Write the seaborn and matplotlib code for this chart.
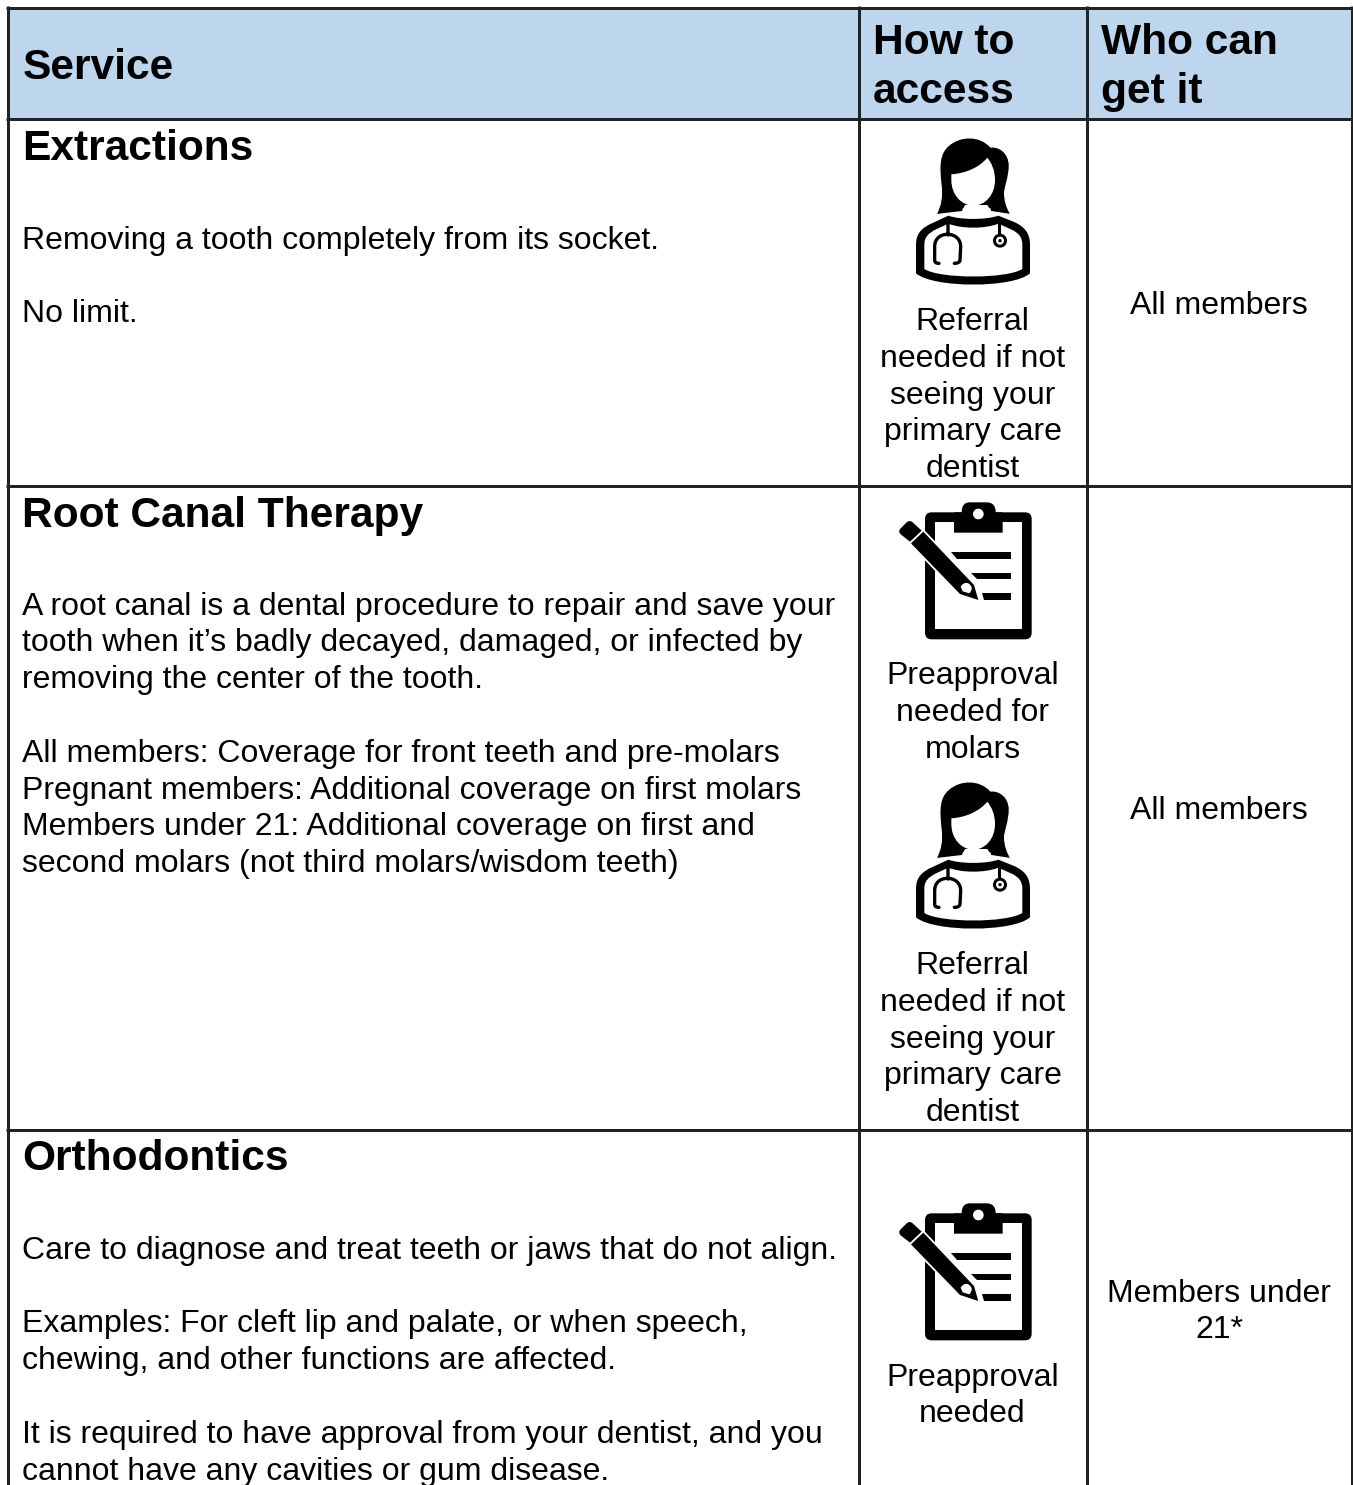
import re

import matplotlib.pyplot as plt
import seaborn as sns
from matplotlib.patches import Circle, PathPatch, Rectangle
from matplotlib.path import Path

# table text
header_service = "Service"
header_access = ["How to", "access"]
header_who = ["Who can", "get it"]

service_titles = ["Extractions", "Root Canal Therapy", "Orthodontics"]
service_lines = [
    "Removing a tooth completely from its socket.",
    "No limit.",
    "A root canal is a dental procedure to repair and save your",
    "tooth when it’s badly decayed, damaged, or infected by",
    "removing the center of the tooth.",
    "All members: Coverage for front teeth and pre-molars",
    "Pregnant members: Additional coverage on first molars",
    "Members under 21: Additional coverage on first and",
    "second molars (not third molars/wisdom teeth)",
    "Care to diagnose and treat teeth or jaws that do not align.",
    "Examples: For cleft lip and palate, or when speech,",
    "chewing, and other functions are affected.",
    "It is required to have approval from your dentist, and you",
    "cannot have any cavities or gum disease.",
]
referral_text = ["Referral", "needed if not", "seeing your", "primary care", "dentist"]
preapproval_molars = ["Preapproval", "needed for", "molars"]
preapproval_text = ["Preapproval", "needed"]
who_text = ["All members", "All members", "Members under", "21*"]

# layout in image pixels
col_edges = [7.5, 858.5, 1086.5, 1351.5]
row_edges = [7.5, 118.5, 485.5, 1129.5]
title_y = [160, 527, 1170]
service_y = [249, 322, 615, 651, 688, 762, 799, 835, 872, 1259, 1332, 1369, 1443, 1480]
who_y = [314, 819, 1302, 1338]

sns.set_theme(style="white")
plt.rcParams["font.family"] = ["Liberation Sans", "DejaVu Sans"]

fig = plt.figure(figsize=(13.53, 14.85), dpi=100)
ax = fig.add_axes([0, 0, 1, 1])
ax.set_xlim(0, 1353)
ax.set_ylim(1485, 0)
ax.axis("off")

BODY = 23.0
BOLD = 30.65
INK = "#222222"
access_x = (col_edges[1] + col_edges[2]) / 2
who_x = (col_edges[2] + col_edges[3]) / 2
text_x = 22.5


def svg(d):
    # tiny M/L/C/Q/Z path reader, easier than typing the codes out
    verts, codes = [], []
    kinds = {"M": (Path.MOVETO, 1), "L": (Path.LINETO, 1), "C": (Path.CURVE4, 3), "Q": (Path.CURVE3, 2)}
    for cmd, args in re.findall(r"([MLCQZ])([^MLCQZ]*)", d):
        nums = [float(n) for n in args.split()]
        if cmd == "Z":
            verts.append((0, 0))
            codes.append(Path.CLOSEPOLY)
            continue
        code, n = kinds[cmd]
        pts = list(zip(nums[::2], nums[1::2]))
        for i, p in enumerate(pts):
            verts.append(p)
            codes.append(code if (cmd not in "ML" or i == 0) else Path.LINETO)
    return Path(verts, codes)


def shape(d, ox, oy, fc="black", ec="none", lw=0.0, zorder=3):
    # icon drawings were traced at 3x, hence the scale
    path = svg(d)
    verts = path.vertices / 3 + [ox, oy]
    path = Path(verts, path.codes)
    ax.add_patch(PathPatch(path, facecolor=fc, edgecolor=ec, lw=lw, zorder=zorder, capstyle="round"))


def dot(x, y, r, ox, oy, fc, zorder=4):
    ax.add_patch(Circle((ox + x / 3, oy + y / 3), r / 3, facecolor=fc, edgecolor="none", zorder=zorder))


def draw_doctor(ox, oy):
    # shoulders
    shape("M108 445 L108 360 C108 325 125 308 160 293 L205 272 C240 285 320 285 355 272 L400 290 "
          "C435 305 450 325 450 360 L450 445 C400 490 160 490 108 445 Z", ox, oy)
    shape("M133 432 L133 360 C133 335 145 325 170 312 L205 296 C245 312 315 312 355 296 L395 314 "
          "C418 325 427 338 427 360 L427 432 C380 462 180 462 133 432 Z", ox, oy, fc="white", zorder=3.1)
    # hair, the white edge keeps it apart from the shoulders
    shape("M168 269 C183 240 187 215 183 180 C176 120 178 85 205 62 C240 30 300 30 332 66 "
          "C360 63 387 85 388 120 C388 160 374 185 374 205 C374 230 382 250 393 269 L335 260 "
          "L245 260 Z", ox, oy, ec="white", lw=0.9, zorder=3.2)
    # neck and face
    shape("M245 260 L335 260 L322 240 L255 240 Z", ox, oy, fc="white", zorder=3.3)
    shape("M248 264 C252 277 325 277 332 264 L332 250 L248 250 Z", ox, oy, fc="white", zorder=3.3)
    shape("M214 148 C260 145 300 125 322 98 C335 115 345 135 345 165 C345 210 315 242 280 242 "
          "C245 242 214 210 214 165 Z", ox, oy, fc="white", zorder=3.4)
    # stethoscope
    shape("M204 292 L204 330 M177 415 C168 415 164 412 164 405 L164 365 C164 340 182 328 202 328 "
          "C225 328 242 342 242 365 L240 405 C240 412 232 415 223 415", ox, oy, fc="none", ec="black", lw=2.4, zorder=3.5)
    shape("M358 292 L358 330", ox, oy, fc="none", ec="black", lw=2.2, zorder=3.5)
    dot(360, 347, 21, ox, oy, "black")
    dot(360, 347, 12, ox, oy, "white", 4.1)
    dot(360, 347, 5, ox, oy, "black", 4.2)


def draw_clipboard(ox, oy):
    shape("M155 67 L435 67 Q455 67 455 87 L455 428 Q455 448 435 448 L155 448 Q135 448 135 428 "
          "L135 87 Q135 67 155 67 Z", ox, oy)
    shape("M165 97 L425 97 L425 418 L165 418 Z", ox, oy, fc="white", zorder=3.1)
    # clip on top
    shape("M222 128 L222 67 L245 67 C245 45 255 37 270 37 L320 37 C335 37 347 45 347 67 L368 67 "
          "L368 128 Z", ox, oy, zorder=3.2)
    dot(295, 72, 16, ox, oy, "white", 3.3)
    # ruled lines
    shape("M212 186 L394 186 L394 206 L232 206 Z", ox, oy, zorder=3.2)
    shape("M274 248 L394 248 L394 268 L292 268 Z", ox, oy, zorder=3.2)
    shape("M305 310 L394 310 L394 330 L312 330 Z", ox, oy, zorder=3.2)
    # pencil with a white halo
    shape("M93 160 L130 125 L282 285 L295 330 L240 312 Z", ox, oy, ec="white", lw=2.6, zorder=3.5)
    shape("M93 160 L130 125 L282 285 L295 330 L240 312 Z", ox, oy, zorder=3.6)
    shape("M62 133 Q53 124 62 115 L80 97 Q89 89 98 97 L125 122 L90 155 Z", ox, oy, zorder=3.6)
    shape("M242 290 C252 274 268 275 275 292 C276 300 272 305 268 310 L248 304 Z", ox, oy, fc="white", zorder=3.7)


def centered(lines, x, ys):
    for line, y in zip(lines, ys):
        ax.text(x, y, line, ha="center", va="baseline", fontsize=BODY, color="black")


# header band and grid
ax.add_patch(Rectangle((col_edges[0], row_edges[0]), col_edges[3] - col_edges[0], row_edges[1] - row_edges[0],
                       facecolor="#BDD6EE", edgecolor="none", zorder=0))
ax.hlines(row_edges, col_edges[0] - 1.5, col_edges[3] + 1.5, color=INK, lw=2.16, zorder=1, capstyle="butt")
ax.vlines(col_edges, row_edges[0] - 1.5, 1485, color=INK, lw=2.16, zorder=1, capstyle="butt")

# header
ax.text(text_x, 79, header_service, fontsize=BOLD, fontweight="bold", va="baseline", color="black")
for line, y in zip(header_access, [54, 103]):
    ax.text(873, y, line, fontsize=BOLD, fontweight="bold", va="baseline", color="black")
for line, y in zip(header_who, [54, 103]):
    ax.text(1101, y, line, fontsize=BOLD, fontweight="bold", va="baseline", color="black")

# first column
for title, y in zip(service_titles, title_y):
    ax.text(text_x, y, title, fontsize=BOLD, fontweight="bold", va="baseline", color="black")
for line, y in zip(service_lines, service_y):
    ax.text(text_x, y, line, fontsize=BODY, va="baseline", color="black")

# how to access
draw_doctor(880, 125)
centered(referral_text, access_x, [330, 367, 404, 440, 477])
draw_clipboard(880, 490)
centered(preapproval_molars, access_x, [684, 721, 758])
draw_doctor(880, 769)
centered(referral_text, access_x, [974, 1011, 1048, 1084, 1121])
draw_clipboard(880, 1191)
centered(preapproval_text, access_x, [1386, 1422])

# who can get it
centered(who_text, who_x, who_y)

sns.despine(ax=ax, left=True, bottom=True)
fig.savefig("out.png", dpi=100, facecolor="white")
